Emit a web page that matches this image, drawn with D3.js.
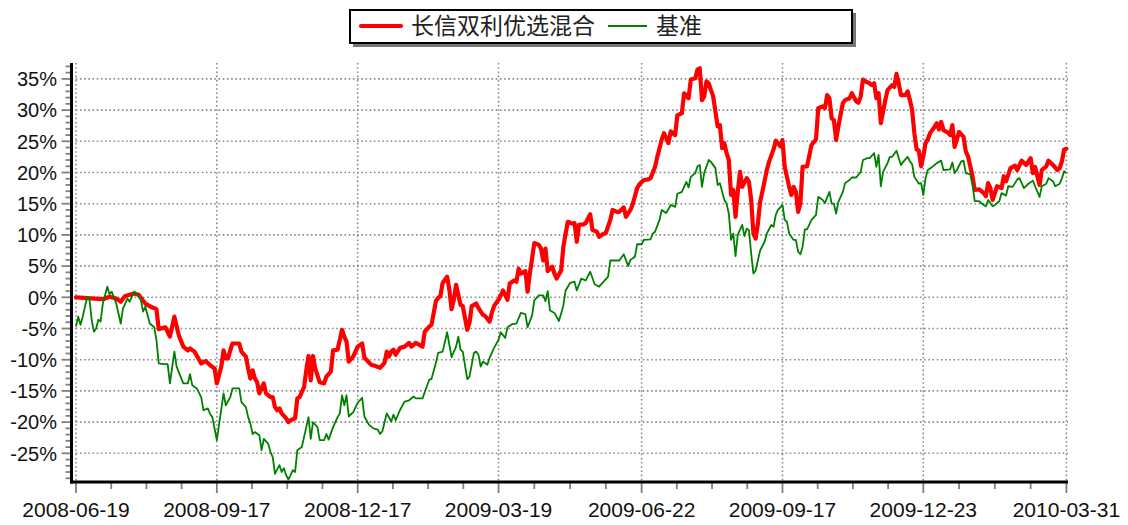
<!DOCTYPE html>
<html><head><meta charset="utf-8">
<script src="https://cdn.jsdelivr.net/npm/d3@7"></script>
<style>html,body{margin:0;padding:0;background:#fff;}svg{display:block;}</style>
</head><body>
<svg id="chart" width="1128" height="525"></svg>
<script>
// ---- data ----
const seriesNames = ["长信双利优选混合", "基准"];
const tickIdx = [0, 63, 126, 189, 253, 316, 379, 443];
const tickLabels = ["2008-06-19","2008-09-17","2008-12-17","2009-03-19","2009-06-22","2009-09-17","2009-12-23","2010-03-31"];
const yTicks = [-25,-20,-15,-10,-5,0,5,10,15,20,25,30,35];
// [trading-day index, cumulative return %]
const fundPts = [[0,0],[12,-0.3],[15,0.1],[18,-0.2],[20,-0.7],[22,0.2],[26,0.6],[28,0.4],[31,-1],[34,-1.6],[36,-1.9],[37,-5.1],[40,-4.8],[42,-6.3],[44,-3.1],[46,-6.1],[48,-7.9],[50,-8.5],[51,-8.2],[53,-8.7],[56,-10.6],[58,-10.2],[60,-10.9],[62,-11.4],[63,-13.8],
[65,-11.1],[66,-8.5],[67,-9.8],[68,-9.8],[69,-8.5],[70,-7.4],[73,-7.4],[74,-8.7],[76,-9.5],[77,-11.4],[78,-13],[79,-11.7],[80,-13],[81,-13.6],[82,-15.4],[84,-13.8],[85,-15.4],[87,-16],[88,-16],[89,-17.6],[90,-18.1],[91,-17.8],[92,-18.6],[94,-19.4],[95,-20],[96,-19.7],[98,-19.4],[99,-16.2],[100,-16],[102,-14.4],[103,-11.7],[104,-9.4],[105,-13.3],[106,-9.4],[107,-11.4],[109,-13.6],[111,-13.8],[112,-12.7],[114,-11.9],[115,-8.5],[117,-8.4],[119,-5.2],[120,-6.3],[121,-7.1],[122,-10.3],[124,-9.5],[126,-7.9],
[128,-7.4],[129,-9.7],[132,-10.8],[134,-11],[136,-11.3],[138,-10.5],[139,-8.7],[140,-9.5],[141,-8.7],[142,-8.4],[143,-9.2],[145,-8.1],[147,-7.9],[149,-7.3],[150,-7.9],[152,-7.3],[155,-7.9],[156,-5.5],[158,-4.7],[159,-4.4],[161,-0.6],[162,-0.1],[163,0.2],[164,2.3],[166,3.3],[167,1.2],[168,-1.9],[169,-0.4],[170,2],[172,-1.2],[173,-1.4],[175,-5.2],[176,-4.1],[177,-1.4],[179,-1],[180,-1.7],[182,-2.8],[183,-3],[185,-3.9],[186,-2.5],[187,-1.4],[189,-0.4],
[190,0.3],[191,1.1],[193,-0.4],[194,2.2],[196,2.7],[197,2.5],[198,4.6],[199,3.8],[201,4.2],[202,0.9],[203,3.8],[204,6.2],[205,8.7],[207,8.4],[208,7.8],[209,5.9],[210,7.8],[211,4.2],[213,4.9],[214,3.8],[215,3],[217,4.3],[218,8.1],[219,10.2],[220,12.1],[222,11.8],[223,11.9],[224,8.9],[225,11.6],[227,11.7],[228,11.9],[230,13.3],[231,10.8],[233,10.5],[234,9.7],[236,10.2],[237,10.3],[239,12.4],[240,14],[242,13.7],[243,13.7],[245,14.4],[246,12.9],[248,14],[249,14.9],[251,17.5],[252,18.1],[254,18.8],
[256,18.9],[257,19.1],[259,20.9],[260,22.5],[262,25.3],[263,26.3],[265,24.7],[266,26.6],[268,26],[269,29.2],[271,29.5],[272,32.7],[274,31.9],[275,34.9],[277,35.1],[278,36.5],[279,36.7],[280,31.6],[281,32.2],[282,34.6],[283,34.3],[284,33.2],[285,32.2],[287,27.4],[288,27.6],[289,23.9],[290,24.7],[291,23.1],[292,22],[293,16.4],[294,17.2],[295,12.9],[296,16.9],[297,20.1],[298,17.7],[300,19.1],[301,18.5],[302,15.6],[303,10.2],[304,9.4],[305,11.8],[306,15.3],[307,16.9],[309,20.4],[310,21.7],[312,23.7],[313,25.1],[315,24.2],[316,25.2],[317,20.9],
[319,17.7],[320,16.4],[321,17.7],[322,16.9],[323,13.7],[324,15],[325,20.9],[327,21],[329,24.4],[331,25.3],[332,30.3],[334,30.6],[335,30.3],[336,32.4],[337,31.9],[338,28.7],[339,28.4],[340,25.2],[341,27.4],[343,31.1],[344,31.6],[346,31.9],[347,32.7],[349,31.4],[350,31.2],[351,32.2],[352,34.9],[353,34.6],[355,34.3],[356,34],[357,34.3],[358,31.9],[359,32.7],[360,27.9],[362,31.6],[363,33.2],[365,34],[366,33.7],[367,35.8],[368,34.3],[369,32.4],[371,32.4],[372,33],[373,31.6],[374,30],[375,26.3],[376,23.7],[377,23.5],[378,21],[379,22.6],[380,24.7],
[381,25.3],[382,26.3],[384,27.3],[385,27.9],[386,26.9],[387,28.1],[388,26.8],[390,26.4],[391,26],[392,27.6],[393,24.1],[394,25.3],[395,26.5],[397,25.7],[398,23.4],[399,22.6],[401,19.4],[402,17.2],[404,17.3],[406,16.7],[407,16.2],[408,18.3],[409,17.5],[410,15.6],[411,16.7],[412,17.8],[414,17.5],[415,19.4],[416,18.6],[418,20.7],[420,21.1],[421,20.4],[423,21.9],[425,21.2],[427,22.3],[428,19.9],[429,20.9],[431,18],[432,20.4],[434,21],[435,21.9],[437,21.2],[439,20.4],[440,20.7],[441,21.8],[442,23.7],[443,23.8]];
const benchPts = [[0,-4.7],[1,-3.1],[2,-4.4],[3,-3.1],[5,0],[6,-0.2],[7,-3.6],[8,-5.5],[9,-5],[10,-3.6],[11,-3.9],[12,-1],[14,1.7],[15,0.5],[16,0.9],[18,-1],[20,-4.2],[21,-1.8],[23,-0.2],[24,-0.7],[26,0.9],[27,0.6],[29,-0.4],[30,-2.3],[31,-1.5],[33,-4.2],[35,-4.8],[36,-6.9],[37,-10.6],[39,-10.7],[41,-10.7],[42,-13.8],[44,-8.7],[45,-11.1],[48,-13.8],[50,-13.8],[51,-12.3],[52,-14.1],[54,-14.6],[56,-16],[57,-18.1],[59,-17.8],[60,-18.7],[61,-19.2],[63,-22.9],
[66,-15.4],[67,-17.3],[69,-16],[70,-14.6],[73,-14.6],[74,-16.8],[76,-17.6],[77,-19.2],[78,-20.2],[79,-21.9],[80,-21.6],[82,-22.1],[83,-24.5],[84,-22.7],[86,-23.5],[87,-24.8],[88,-25.6],[89,-28.3],[91,-26.9],[92,-28],[93,-27.4],[94,-28.5],[95,-29.2],[97,-27.7],[98,-28],[99,-24.5],[101,-24],[102,-22.4],[103,-20.8],[104,-19.2],[105,-22.7],[106,-20],[108,-20.8],[109,-22.9],[111,-22.9],[112,-21.9],[113,-22.8],[115,-20.8],[117,-19.2],[118,-18.6],[119,-15.7],[120,-17.3],[121,-15.7],[122,-19.1],[124,-18.4],[126,-16.9],
[128,-16.1],[129,-19.1],[131,-20.4],[133,-21],[135,-21.2],[136,-21.9],[137,-21.5],[139,-18.6],[141,-19.9],[142,-18.8],[143,-19.7],[145,-18],[147,-16.7],[149,-16.5],[151,-15.9],[152,-16.2],[155,-16.2],[158,-13.2],[159,-13.1],[161,-10.5],[162,-8.9],[164,-8.7],[166,-5.6],[168,-9.6],[170,-7.9],[171,-6.3],[172,-8.4],[173,-8.7],[175,-13.1],[176,-12.7],[178,-8.9],[179,-8.7],[180,-9.2],[181,-11.1],[182,-10.3],[184,-10.8],[185,-9.7],[187,-8.1],[189,-6.8],
[190,-5.6],[192,-6.5],[193,-4.8],[195,-4.3],[197,-4.2],[199,-2.5],[201,-2.7],[202,-4.8],[204,-2.9],[205,-0.5],[207,0.3],[209,0.3],[210,-0.6],[211,1],[212,-2.1],[214,-2.5],[216,-3.8],[217,-2.6],[218,-1.3],[219,1.1],[221,2.3],[223,2.5],[224,1.1],[226,3],[228,2.7],[230,4.1],[232,2.1],[234,1.7],[236,2.5],[238,3.3],[239,5.9],[241,5.9],[243,5.9],[245,6.9],[247,5],[248,6],[250,6.5],[251,8.5],[253,8.5],[254,9.2],
[257,9.3],[258,10.2],[259,10.5],[261,12.4],[262,14],[264,13.5],[266,14.8],[268,14.5],[269,16.6],[271,16.9],[272,17.7],[273,18.5],[274,17.6],[275,19.3],[277,19.9],[278,21],[279,21.2],[280,17.7],[281,19.9],[283,22],[284,21.7],[286,20.7],[287,18],[288,18.3],[290,15.6],[291,15],[292,13.4],[293,9.2],[294,10.2],[295,6.6],[296,10],[298,11.6],[299,9.8],[300,11],[301,10.8],[302,7],[303,3.8],[304,4.3],[306,7.5],[308,8.9],[309,10.2],[311,11.6],[312,11.3],[313,13.2],[314,14],[316,14.8],[317,12.4],
[318,12.1],[319,10.2],[321,9.2],[322,9.2],[323,7.3],[324,6.9],[325,8.1],[326,10.9],[327,10.9],[329,12.4],[331,13.2],[332,16.1],[334,15.6],[335,15.1],[337,16.9],[338,15],[339,15],[340,13.4],[341,15.3],[343,16.9],[344,18.3],[346,18.8],[347,19.2],[349,19.2],[351,20.1],[352,22],[354,22.3],[355,22.3],[357,23.1],[358,20.9],[359,22.8],[360,17.8],[361,20.1],[363,21.5],[364,22.5],[365,22.5],[367,23.5],[369,21.2],[370,21.7],[372,22.5],[373,21.8],[374,21.3],[375,19.3],
[377,18.2],[378,18.3],[379,16.4],[380,19.1],[381,20.4],[383,20.9],[385,21.5],[387,21.9],[388,20.4],[391,20.5],[392,21.6],[393,19.9],[394,20.4],[396,21.8],[397,21.9],[398,19.9],[400,19.7],[401,18],[402,15.4],[404,15.4],[406,14.8],[407,14.6],[408,15.6],[410,14.6],[411,14.8],[413,15.4],[414,16.7],[416,16.3],[417,17.8],[419,17.7],[421,18.9],[422,19.1],[424,17.5],[426,18.2],[428,18.7],[429,17.8],[431,16.1],[432,17.8],[434,18.2],[435,19.1],[437,18.6],[438,17.8],[440,18.2],[441,19.1],[442,20.2],[443,19.9]];

// ---- chart ----
const svg = d3.select("#chart");
const x = d3.scaleLinear().domain([0, 443]).range([76, 1066.4]);
const y = d3.scaleLinear().domain([-29.5, 37.5]).range([481.4, 63.3]);
const axisX = 71.5, axisY = 482, plotRight = 1068, plotTop = 63;
const gridColor = "#8a8a8a";

// grid
const grid = svg.append("g");
grid.selectAll("line.h").data(yTicks).join("line")
  .attr("x1", axisX).attr("x2", plotRight)
  .attr("y1", d => y(d)).attr("y2", d => y(d))
  .attr("stroke", gridColor).attr("stroke-width", 1.6).attr("stroke-dasharray", "1.6,2.6");
grid.selectAll("line.v").data(tickIdx).join("line")
  .attr("x1", d => x(d)).attr("x2", d => x(d))
  .attr("y1", plotTop).attr("y2", axisY)
  .attr("stroke", gridColor).attr("stroke-width", 1.6).attr("stroke-dasharray", "1.6,2.6");

// lines
const line = d3.line().x(d => x(d[0])).y(d => y(d[1])).curve(d3.curveLinear);
svg.append("path").datum(fundPts).attr("d", line)
  .attr("fill", "none").attr("stroke", "#ff0000").attr("stroke-width", 4.2)
  .attr("stroke-linejoin", "round").attr("stroke-linecap", "round");
svg.append("path").datum(benchPts).attr("d", line)
  .attr("fill", "none").attr("stroke", "#008000").attr("stroke-width", 1.8)
  .attr("stroke-linejoin", "round");

// y axis ticks
const yMinor = d3.range(-29, 38, 1);
const yt = svg.append("g");
yt.selectAll("line").data(yMinor).join("line")
  .attr("x1", d => (d % 5 === 0 ? axisX - 10 : axisX - 6)).attr("x2", axisX)
  .attr("y1", d => y(d)).attr("y2", d => y(d))
  .attr("stroke", "#808080").attr("stroke-width", 1.8);
yt.selectAll("text").data(yTicks).join("text")
  .attr("x", 57).attr("y", d => y(d)).attr("dy", "0.36em")
  .attr("text-anchor", "end")
  .style("font-family", "'Liberation Sans', Arial, sans-serif").style("font-size", "20px").style("fill", "#111")
  .text(d => d + "%");

// x axis ticks
const xMinor = [];
for (let i = 0; i < tickIdx.length - 1; i++) {
  for (let k = 1; k < 4; k++) xMinor.push(tickIdx[i] + (tickIdx[i + 1] - tickIdx[i]) * k / 4);
}
const xt = svg.append("g");
xt.selectAll("line.mn").data(xMinor).join("line")
  .attr("x1", d => x(d)).attr("x2", d => x(d)).attr("y1", axisY).attr("y2", axisY + 7)
  .attr("stroke", "#808080").attr("stroke-width", 1.8);
xt.selectAll("line.mj").data(tickIdx).join("line")
  .attr("x1", d => x(d)).attr("x2", d => x(d)).attr("y1", axisY).attr("y2", axisY + 11)
  .attr("stroke", "#808080").attr("stroke-width", 1.8);
xt.selectAll("text").data(tickIdx).join("text")
  .attr("x", d => x(d)).attr("y", 517)
  .attr("text-anchor", "middle")
  .style("font-family", "'Liberation Sans', Arial, sans-serif").style("font-size", "21px").style("fill", "#111")
  .text((d, i) => tickLabels[i]);

// axis lines
svg.append("line").attr("x1", axisX).attr("x2", axisX).attr("y1", plotTop).attr("y2", axisY + 1.5)
  .attr("stroke", "#000").attr("stroke-width", 3);
svg.append("line").attr("x1", axisX - 1.5).attr("x2", plotRight).attr("y1", axisY).attr("y2", axisY)
  .attr("stroke", "#000").attr("stroke-width", 3);

// legend
const lg = svg.append("g");
lg.append("rect").attr("x", 353).attr("y", 13).attr("width", 503).attr("height", 34).attr("fill", "#777");
lg.append("rect").attr("x", 350).attr("y", 10).attr("width", 502).attr("height", 33)
  .attr("fill", "#fff").attr("stroke", "#000").attr("stroke-width", 2);
lg.append("line").attr("x1", 361).attr("x2", 401).attr("y1", 26).attr("y2", 26)
  .attr("stroke", "#ff0000").attr("stroke-width", 4.2).attr("stroke-linecap", "round");
lg.append("text").attr("x", 411).attr("y", 26).attr("dy", "0.36em")
  .style("font-family", "'Noto Sans CJK SC', sans-serif").style("font-size", "23px").style("fill", "#222")
  .text(seriesNames[0]);
lg.append("line").attr("x1", 608).attr("x2", 647).attr("y1", 26).attr("y2", 26)
  .attr("stroke", "#008000").attr("stroke-width", 1.8);
lg.append("text").attr("x", 656).attr("y", 26).attr("dy", "0.36em")
  .style("font-family", "'Noto Sans CJK SC', sans-serif").style("font-size", "23px").style("fill", "#222")
  .text(seriesNames[1]);
</script>
</body></html>
